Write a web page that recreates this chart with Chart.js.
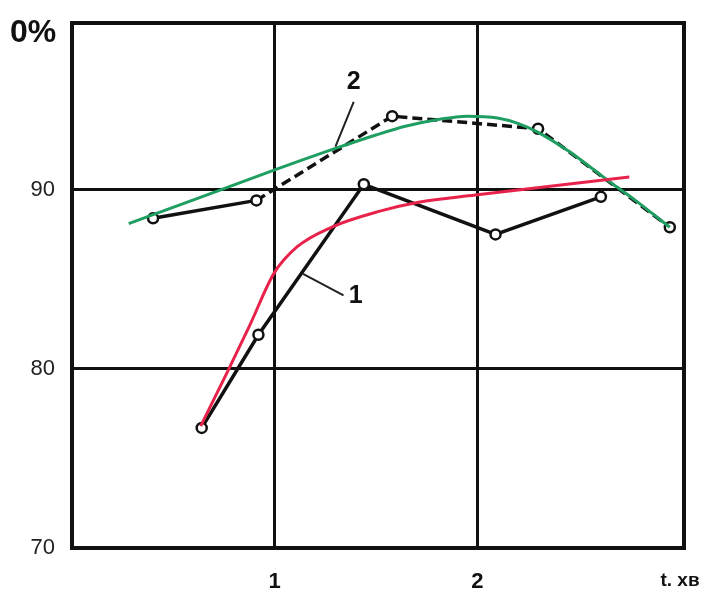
<!DOCTYPE html>
<html>
<head>
<meta charset="utf-8">
<script src="https://cdn.jsdelivr.net/npm/chart.js@4"></script>
<style>
  html, body { margin: 0; padding: 0; background: #fff; }
  #wrap { width: 704px; height: 595px; }
</style>
</head>
<body>
<div id="wrap"><canvas id="chart" width="704" height="595"></canvas></div>
<script>
// ==================== Data ====================

const xTicks = [1, 2];
const yTicks = [70, 80, 90];

// curve 1: measured points (black, solid)
const s1X = [0.64, 0.92, 1.44, 2.09, 2.61];
const s1Y = [76.7, 81.9, 90.3, 87.5, 89.6];

// curve 2: measured points (black, dashed after 2nd point)
const s2X = [0.40, 0.91, 1.58, 2.30, 2.95];
const s2Y = [88.4, 89.4, 94.1, 93.4, 87.9];

// smoothed curve for 2 (green)
const greenX = [0.28, 0.64, 1.00, 1.30, 1.50, 1.65, 1.80, 1.95, 2.10, 2.20, 2.30, 2.45, 2.57, 2.67, 2.78, 2.86, 2.95];
const greenY = [88.1, 89.6, 91.1, 92.3, 93.05, 93.55, 93.9, 94.1, 94.0, 93.7, 93.2, 92.15, 91.15, 90.3, 89.4, 88.7, 87.9];

// smoothed curve for 1 (red)
const redX = [0.635, 0.77, 0.88, 0.995, 1.11, 1.28, 1.52, 1.71, 1.99, 2.37, 2.75];
const redY = [76.8, 79.9, 82.5, 85.3, 86.8, 87.9, 88.8, 89.3, 89.7, 90.2, 90.7];

// curve labels with leader lines: [labelX, labelY, fromX, fromY, toX, toY]
const curveLabels = ['1', '2'];
const labelPos = [[1.38, 84.05, 1.34, 84.1, 1.14, 85.3], [1.37, 96.0, 1.39, 94.9, 1.30, 92.4]];

const toXY = (xs, ys) => xs.map((x, i) => ({ x, y: ys[i] }));

// ==================== Chart ====================

const FONT = '"Liberation Sans", Arial, sans-serif';
const INK = '#111';

const framePlugin = {
    id: 'frame',
    beforeDatasetsDraw(chart) {
        const { ctx, chartArea: a } = chart;
        ctx.save();
        ctx.strokeStyle = INK;
        ctx.lineWidth = 4;
        ctx.strokeRect(a.left, a.top, a.right - a.left, a.bottom - a.top);
        ctx.restore();
    },
    afterDraw(chart) {
        const { ctx, scales: { x, y } } = chart;
        ctx.save();
        ctx.fillStyle = INK;
        ctx.textAlign = 'center';
        ctx.textBaseline = 'middle';
        ctx.font = 'bold 32px ' + FONT;
        ctx.fillText('0%', 33, 33);
        ctx.font = 'bold 19px ' + FONT;
        ctx.fillText('t. хв', 680, 581);

        // curve labels + leader lines
        ctx.strokeStyle = '#222';
        ctx.lineWidth = 2;
        ctx.font = 'bold 25px ' + FONT;
        curveLabels.forEach((lbl, i) => {
            const p = labelPos[i];
            ctx.beginPath();
            ctx.moveTo(x.getPixelForValue(p[2]), y.getPixelForValue(p[3]));
            ctx.lineTo(x.getPixelForValue(p[4]), y.getPixelForValue(p[5]));
            ctx.stroke();
            ctx.fillText(lbl, x.getPixelForValue(p[0]) + 4, y.getPixelForValue(p[1]));
        });
        ctx.restore();
    }
};

const markerStyle = {
    pointRadius: 5,
    pointBorderWidth: 2.5,
    pointBackgroundColor: '#fff',
    pointBorderColor: INK
};

new Chart(document.getElementById('chart').getContext('2d'), {
    type: 'scatter',
    data: {
        datasets: [
            {
                data: toXY(redX, redY), showLine: true, borderColor: '#e8234b', borderWidth: 3,
                pointRadius: 0, cubicInterpolationMode: 'monotone', order: 0
            },
            {
                data: toXY(greenX, greenY), showLine: true, borderColor: '#1f9e62', borderWidth: 3,
                pointRadius: 0, cubicInterpolationMode: 'monotone', order: 0
            },
            {
                data: toXY(s1X, s1Y), showLine: true, borderColor: INK, borderWidth: 3.5, order: 1,
                ...markerStyle
            },
            {
                data: toXY(s2X, s2Y), showLine: true, borderColor: INK, borderWidth: 3.5, order: 1,
                segment: { borderDash: c => c.p0DataIndex === 0 ? [] : [10, 5] },
                ...markerStyle
            }
        ]
    },
    options: {
        responsive: false,
        animation: false,
        layout: { padding: { top: 23, right: 20, left: 0, bottom: 0 } },
        plugins: { legend: { display: false }, tooltip: { enabled: false } },
        scales: {
            x: {
                type: 'linear', min: 0, max: 3.02,
                afterBuildTicks: s => { s.ticks = xTicks.map(v => ({ value: v })); },
                afterFit: s => { s.height = 47; s.paddingLeft = 0; s.paddingRight = 0; },
                border: { display: false },
                grid: { color: INK, lineWidth: 3, drawTicks: false },
                ticks: {
                    padding: 21, color: INK, font: { family: FONT, size: 22, weight: 'bold' }
                }
            },
            y: {
                min: 70, max: 99.3,
                afterBuildTicks: s => { s.ticks = yTicks.map(v => ({ value: v })); },
                afterFit: s => { s.width = 72; s.paddingTop = 0; s.paddingBottom = 0; },
                border: { display: false },
                grid: { color: INK, lineWidth: 3, drawTicks: false },
                ticks: { padding: 17, color: '#222', font: { family: FONT, size: 22 } }
            }
        }
    },
    plugins: [framePlugin]
});
</script>
</body>
</html>
